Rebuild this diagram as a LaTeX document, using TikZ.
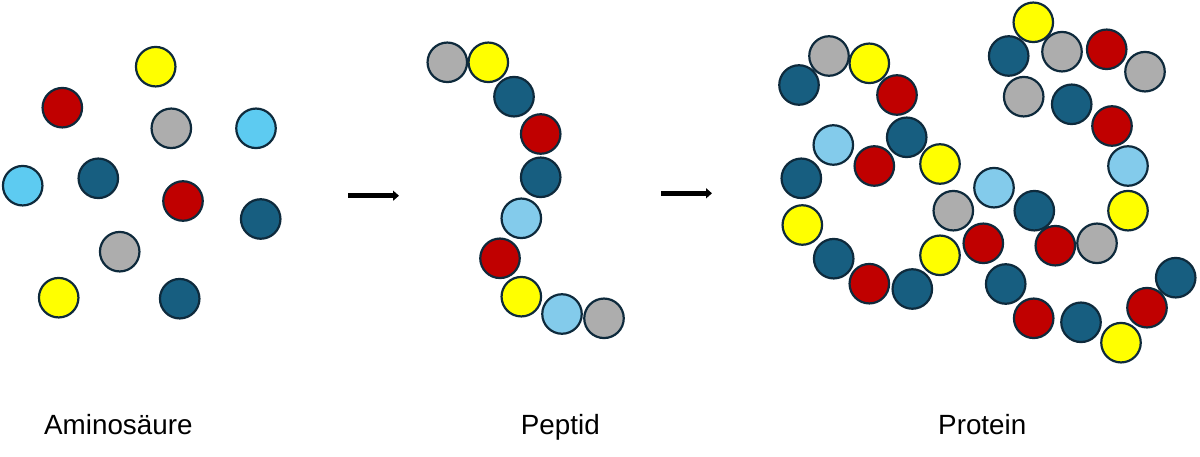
\documentclass[tikz,border=0pt]{standalone}
\usepackage{fontspec}
\setmainfont{Liberation Sans}
\usetikzlibrary{arrows.meta}
\definecolor{cdb}{HTML}{175E80}
\definecolor{cred}{HTML}{C00000}
\definecolor{cyel}{HTML}{FFFF00}
\definecolor{cgr}{HTML}{ADADAD}
\definecolor{clb}{HTML}{5DCBF1}
\definecolor{clb2}{HTML}{83CBEB}
\definecolor{cedge}{HTML}{0E2A3C}
\tikzset{
  aa/.style={circle, inner sep=0pt, minimum size=39.5pt, draw=cedge, line width=2.2pt},
  db/.style={aa, fill=cdb},
  rd/.style={aa, fill=cred},
  ye/.style={aa, fill=cyel},
  gr/.style={aa, fill=cgr},
  lb/.style={aa, fill=clb},
  lb2/.style={aa, fill=clb2},
  lab/.style={anchor=base west, font=\fontsize{27.8}{32}\selectfont, inner sep=0pt},
  arr/.style={line width=4.6pt, -{Triangle[width=10pt,length=6pt]}}
}
\begin{document}
\begin{tikzpicture}[x=1pt,y=-1pt]
\useasboundingbox (0,0) rectangle (1200,457);
% Aminosaeure
\node[ye] (a1) at (155.7,66.7) {};
\node[rd] (a2) at (62.3,107.7) {};
\node[gr] (a3) at (171.3,128.3) {};
\node[lb] (a4) at (256,128.3) {};
\node[lb] (a5) at (22.7,185.7) {};
\node[db] (a6) at (98.3,178.3) {};
\node[rd] (a7) at (183,201) {};
\node[db] (a8) at (260.7,219) {};
\node[gr] (a9) at (119.7,251.7) {};
\node[ye] (a10) at (58.7,297.7) {};
\node[db] (a11) at (179.7,298.7) {};
% Peptid
\node[gr] (p1) at (447.3,62.3) {};
\node[ye] (p2) at (488.3,62.3) {};
\node[db] (p3) at (514,96.7) {};
\node[rd] (p4) at (540.7,134) {};
\node[db] (p5) at (540.7,177.3) {};
\node[lb2] (p6) at (521.3,218.3) {};
\node[rd] (p7) at (500,258.3) {};
\node[ye] (p8) at (521.3,296.7) {};
\node[gr] (p10) at (604,318.3) {};
\node[lb2] (p9) at (562,314) {};
% Protein
\node[db] (q1) at (799,85) {};
\node[gr] (q2) at (829,56) {};
\node[ye] (q3) at (869.3,63.3) {};
\node[rd] (q4) at (897,95) {};
\node[db] (q5) at (906.7,137.3) {};
\node[lb2] (q6) at (833.3,145) {};
\node[rd] (q7) at (874.3,166) {};
\node[ye] (q8) at (940,164) {};
\node[db] (q9) at (801.3,178.3) {};
\node[ye] (q10) at (802.3,225) {};
\node[db] (q11) at (833.7,258.7) {};
\node[rd] (q12) at (869.3,283.7) {};
\node[db] (q13) at (912.3,289) {};
\node[ye] (q14) at (940,255.3) {};
\node[gr] (q15) at (953.3,210.7) {};
\node[lb2] (q16) at (994,187.7) {};
\node[rd] (q17) at (983.3,243.3) {};
\node[db] (q18) at (1034.3,210.7) {};
\node[rd] (q19) at (1055.3,245.7) {};
\node[gr] (q20) at (1097,243.3) {};
\node[ye] (q21) at (1128,210.7) {};
\node[lb2] (q22) at (1128,166) {};
\node[rd] (q23) at (1112,126) {};
\node[db] (q24) at (1071.7,104.3) {};
\node[gr] (q25) at (1023.7,96.7) {};
\node[db] (q26) at (1008.7,56) {};
\node[ye] (q27) at (1033.3,22.3) {};
\node[gr] (q28) at (1062,51.7) {};
\node[rd] (q29) at (1106.7,49.3) {};
\node[gr] (q30) at (1145,71.7) {};
\node[db] (q31) at (1005.7,284) {};
\node[rd] (q32) at (1033.7,318.3) {};
\node[db] (q33) at (1081,322.3) {};
\node[ye] (q34) at (1121,342.7) {};
\node[rd] (q35) at (1147,307.7) {};
\node[db] (q36) at (1175.7,277.7) {};
% arrows
\coordinate (s1) at (348,195.7);
\coordinate (e1) at (399,195.7);
\coordinate (s2) at (661,193.3);
\coordinate (e2) at (712,193.3);
\draw[arr] (s1) -- (e1);
\draw[arr] (s2) -- (e2);
% labels
\node[lab] (l1) at (44,434) {Aminosäure};
\node[lab] (l2) at (520.7,434) {Peptid};
\node[lab] (l3) at (938,434) {Protein};
\end{tikzpicture}
\end{document}
